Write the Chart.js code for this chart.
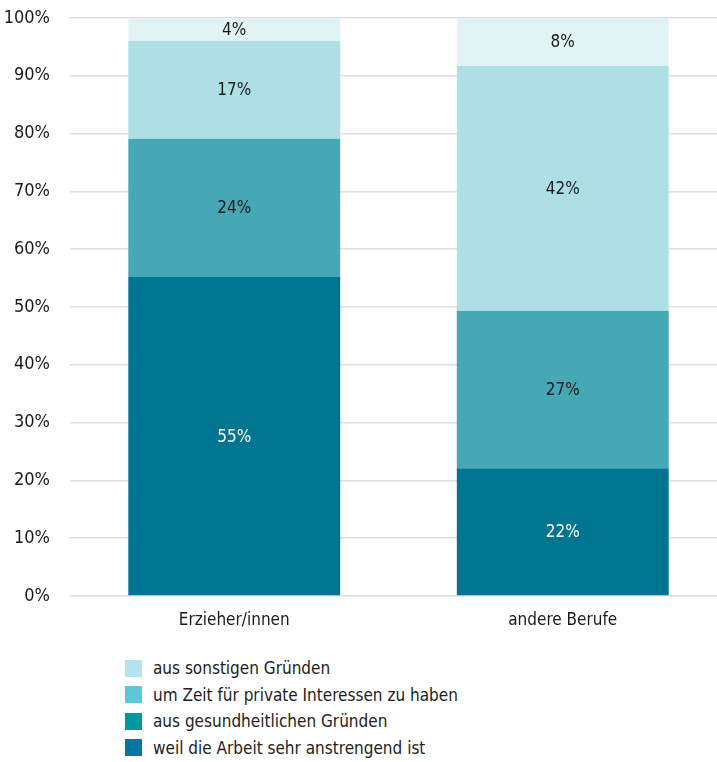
<!DOCTYPE html>
<html>
<head>
<meta charset="utf-8">
<script src="https://cdn.jsdelivr.net/npm/chart.js@4.4.1/dist/chart.umd.min.js"></script>
<style>
  html, body { margin: 0; padding: 0; background: #fff; overflow: hidden; }
  body { font-family: "Liberation Sans Narrow", "DejaVu Sans Condensed", "Roboto", sans-serif; color: #222; }
  #wrap { position: relative; width: 727px; height: 645px; }
  #legend { list-style: none; margin: 0; padding: 0; position: absolute; left: 125px; top: 655px; }
  #legend li { height: 26.5px; line-height: 26.5px; font-size: 17px; display: flex; align-items: center; }
  #legend .box { width: 17px; height: 17px; margin-right: 11px; display: inline-block; }
</style>
</head>
<body>
<div id="wrap"><canvas id="chart"></canvas></div>
<ul id="legend"></ul>
<script>
// categories
const categories = ['Erzieher/innen', 'andere Berufe'];

// series, bottom to top (percent)
const arbeitAnstrengend = [55.2, 22.1];
const gesundheit = [23.9, 27.2];
const privateInteressen = [16.9, 42.4];
const sonstige = [4.0, 8.3];

const seriesNames = [
  'weil die Arbeit sehr anstrengend ist',
  'aus gesundheitlichen Gründen',
  'um Zeit für private Interessen zu haben',
  'aus sonstigen Gründen'
];

// legend, top to bottom
const legendNames = [
  'aus sonstigen Gründen',
  'um Zeit für private Interessen zu haben',
  'aus gesundheitlichen Gründen',
  'weil die Arbeit sehr anstrengend ist'
];
const legendColors = ['#b3e3ec', '#5ec8d8', '#00989f', '#0077a0'];

const FONT = '"Liberation Sans Narrow", "DejaVu Sans Condensed", "Roboto", sans-serif';

const barColors = ['#007592', '#46a8b5', '#addfe5', '#e2f3f6'];
const labelColors = ['#ffffff', '#1a1a1a', '#1a1a1a', '#1a1a1a'];

// simple value labels in the middle of each segment
const segmentLabels = {
  id: 'segmentLabels',
  afterDatasetsDraw(chart) {
    const ctx = chart.ctx;
    ctx.save();
    ctx.font = '17px ' + FONT;
    ctx.textAlign = 'center';
    ctx.textBaseline = 'middle';
    chart.data.datasets.forEach((ds, i) => {
      chart.getDatasetMeta(i).data.forEach((bar, j) => {
        const v = ds.data[j];
        const mid = (bar.y + bar.base) / 2;
        ctx.fillStyle = labelColors[i];
        ctx.fillText(Math.round(v) + '%', bar.x, mid + 1);
      });
    });
    ctx.restore();
  }
};

const values = [arbeitAnstrengend, gesundheit, privateInteressen, sonstige];

new Chart(document.getElementById('chart'), {
  type: 'bar',
  data: {
    labels: categories,
    datasets: values.map((d, i) => ({
      label: seriesNames[i],
      data: d,
      backgroundColor: barColors[i],
      borderWidth: 0,
      categoryPercentage: 1,
      barPercentage: 0.645
    }))
  },
  options: {
    animation: false,
    responsive: true,
    maintainAspectRatio: false,
    layout: { padding: { top: 18, right: 0, left: 0, bottom: 0 } },
    scales: {
      x: {
        stacked: true,
        grid: { display: false, drawTicks: false },
        border: { display: false },
        ticks: { color: '#1a1a1a', font: { family: FONT, size: 17 }, padding: 14 },
        afterFit(scale) { scale.height = 49; scale.paddingLeft = 0; scale.paddingRight = 0; }
      },
      y: {
        stacked: true,
        min: 0,
        max: 100,
        grid: { color: '#dedede', lineWidth: 1.5, drawTicks: false },
        border: { display: false },
        ticks: {
          stepSize: 10,
          padding: 20,
          color: '#1a1a1a',
          font: { family: FONT, size: 18 },
          callback: v => v + '%'
        },
        afterFit(scale) { scale.width = 70; scale.paddingTop = 0; scale.paddingBottom = 0; }
      }
    },
    plugins: {
      legend: { display: false },
      tooltip: { enabled: false }
    }
  },
  plugins: [segmentLabels]
});

const legendEl = document.getElementById('legend');
legendNames.forEach((name, i) => {
  const li = document.createElement('li');
  const box = document.createElement('span');
  box.className = 'box';
  box.style.background = legendColors[i];
  li.appendChild(box);
  li.appendChild(document.createTextNode(name));
  legendEl.appendChild(li);
});
</script>
</body>
</html>
